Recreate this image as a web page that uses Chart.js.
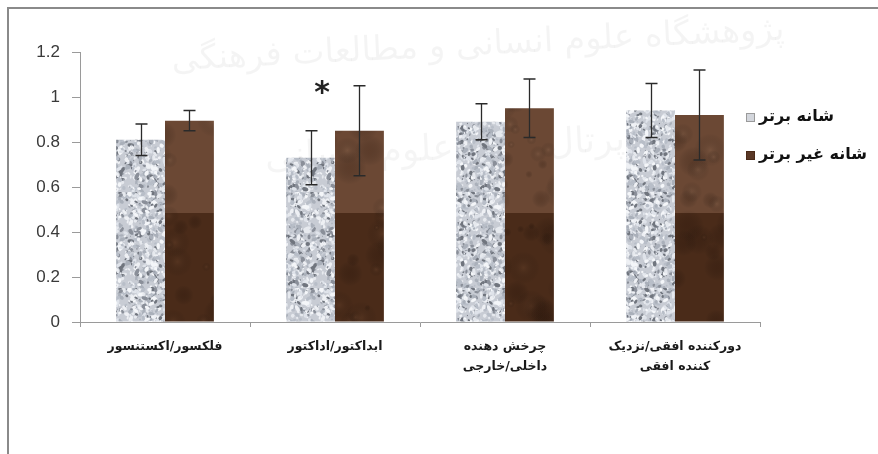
<!DOCTYPE html>
<html>
<head>
<meta charset="utf-8">
<script src="https://cdn.jsdelivr.net/npm/chart.js@4/dist/chart.umd.min.js"></script>
<style>
  html, body { margin: 0; padding: 0; background: #ffffff; }
  #wrap { width: 878px; height: 454px; }
</style>
</head>
<body>
<div id="wrap"><canvas id="c" width="878" height="454"></canvas></div>
<script>
// ---- data ----
const categories = [
  'فلکسور/اکستنسور',
  'ابداکتور/اداکتور',
  ['چرخش دهنده', 'داخلی/خارجی'],
  ['دورکننده افقی/نزدیک', 'کننده افقی']
];
const seriesNames = ['شانه برتر', 'شانه غیر برتر'];
const dominantValues = [0.81, 0.73, 0.89, 0.94];
const dominantErrors = [0.07, 0.12, 0.08, 0.12];
const nonDominantValues = [0.895, 0.85, 0.95, 0.92];
const nonDominantErrors = [0.045, 0.2, 0.13, 0.2];
const significantCategoryIndex = 1;
const significanceMark = '*';
const watermarkLines = ['پژوهشگاه علوم انسانی و مطالعات فرهنگی', 'پرتال جامع علوم انسانی'];

// ---- textures (styling only) ----
function lcg(seed) {
  let s = seed;
  return () => { s = (s * 16807) % 2147483647; return s / 2147483647; };
}
function makeGranite() {
  const c = document.createElement('canvas');
  c.width = 96; c.height = 96;
  const g = c.getContext('2d');
  g.fillStyle = '#c8ccd4';
  g.fillRect(0, 0, 96, 96);
  const rnd = lcg(98765);
  const cols = ['#8a8f99', '#eef0f4', '#aab0ba', '#f4f6f9', '#70757e', '#b8bec8', '#dfe3ea', '#e6e9ee'];
  for (let i = 0; i < 1100; i++) {
    const x = rnd() * 96, y = rnd() * 96, r = rnd() * 1.6 + 0.4;
    g.fillStyle = cols[Math.floor(rnd() * cols.length)];
    g.beginPath();
    g.ellipse(x, y, r * (1 + rnd()), r, rnd() * Math.PI, 0, Math.PI * 2);
    g.fill();
  }
  return g.createPattern(c, 'repeat');
}
function makeMarble() {
  const W = 878, H = 454, split = 213;
  const c = document.createElement('canvas');
  c.width = W; c.height = H;
  const g = c.getContext('2d');
  g.fillStyle = '#6b4834';
  g.fillRect(0, 0, W, split);
  g.fillStyle = '#4a2b19';
  g.fillRect(0, split, W, H - split);
  const rnd = lcg(24680);
  for (let i = 0; i < 900; i++) {
    const x = rnd() * W, y = rnd() * H, r = rnd() * 14 + 3;
    const upper = y < split;
    const light = rnd() < 0.5;
    let col;
    if (upper) col = light ? 'rgba(140,104,80,0.3)' : 'rgba(60,34,20,0.3)';
    else col = light ? 'rgba(110,72,48,0.3)' : 'rgba(40,20,10,0.3)';
    const gr = g.createRadialGradient(x, y, 0, x, y, r);
    gr.addColorStop(0, col);
    gr.addColorStop(1, 'rgba(0,0,0,0)');
    g.fillStyle = gr;
    g.fillRect(x - r, y - r, 2 * r, 2 * r);
  }
  return g.createPattern(c, 'repeat');
}

const canvas = document.getElementById('c');
const grayPattern = makeGranite();
const brownPattern = makeMarble();

// ---- plugins ----
const framePlugin = {
  id: 'frame',
  beforeDraw(chart) {
    const ctx = chart.ctx;
    ctx.save();
    ctx.strokeStyle = '#8a8a8a';
    ctx.lineWidth = 2;
    ctx.beginPath();
    ctx.moveTo(8, 454);
    ctx.lineTo(8, 8);
    ctx.lineTo(878, 8);
    ctx.stroke();
    ctx.restore();
  },
  beforeDatasetsDraw(chart) {
    const ctx = chart.ctx;
    ctx.save();
    ctx.fillStyle = 'rgba(0,0,0,0.045)';
    ctx.textAlign = 'center';
    ctx.textBaseline = 'middle';
    ctx.font = '34px "DejaVu Sans"';
    ctx.translate(478, 46);
    ctx.rotate(-0.05);
    ctx.fillText(watermarkLines[0], 0, 0);
    ctx.restore();
    ctx.save();
    ctx.fillStyle = 'rgba(0,0,0,0.04)';
    ctx.textAlign = 'center';
    ctx.textBaseline = 'middle';
    ctx.font = '36px "DejaVu Sans"';
    ctx.translate(445, 150);
    ctx.rotate(-0.05);
    ctx.fillText(watermarkLines[1], 0, 0);
    ctx.restore();
  }
};

const errorBarPlugin = {
  id: 'errorBars',
  afterDatasetsDraw(chart) {
    const ctx = chart.ctx;
    const y = chart.scales.y;
    const errs = [dominantErrors, nonDominantErrors];
    ctx.save();
    ctx.strokeStyle = '#2a2a2a';
    ctx.lineWidth = 1.3;
    errs.forEach((e, di) => {
      const meta = chart.getDatasetMeta(di);
      meta.data.forEach((bar, i) => {
        const v = chart.data.datasets[di].data[i];
        const top = y.getPixelForValue(v + e[i]);
        const bot = y.getPixelForValue(v - e[i]);
        const x = Math.round(bar.x) + 0.5;
        ctx.beginPath();
        ctx.moveTo(x, top); ctx.lineTo(x, bot);
        ctx.moveTo(x - 6, top); ctx.lineTo(x + 6, top);
        ctx.moveTo(x - 6, bot); ctx.lineTo(x + 6, bot);
        ctx.stroke();
      });
    });
    const xs = chart.scales.x.getPixelForValue(significantCategoryIndex) - 13;
    const ys = y.getPixelForValue(1.04);
    ctx.fillStyle = '#222';
    ctx.font = 'bold 30px "DejaVu Sans"';
    ctx.textAlign = 'center';
    ctx.textBaseline = 'middle';
    ctx.fillText(significanceMark, xs, ys + 6);
    ctx.restore();
  }
};

const legendPlugin = {
  id: 'customLegend',
  afterDraw(chart) {
    const ctx = chart.ctx;
    const items = [
      { fill: '#d3d6dc', stroke: '#9a9a9a', y: 117 },
      { fill: '#5a3826', stroke: '#4a2a18', y: 155 }
    ];
    ctx.save();
    ctx.font = 'bold 16px "DejaVu Sans"';
    ctx.textAlign = 'left';
    ctx.textBaseline = 'middle';
    items.forEach((it, i) => {
      ctx.fillStyle = it.fill;
      ctx.fillRect(746, it.y - 4, 9, 9);
      ctx.strokeStyle = it.stroke;
      ctx.lineWidth = 1;
      ctx.strokeRect(746.5, it.y - 3.5, 8, 8);
      ctx.fillStyle = '#111';
      ctx.fillText(seriesNames[i], 759, it.y);
    });
    ctx.restore();
  }
};

new Chart(canvas, {
  type: 'bar',
  data: {
    labels: categories,
    datasets: [
      { label: seriesNames[0], data: dominantValues, backgroundColor: grayPattern, borderWidth: 0,
        categoryPercentage: 0.575, barPercentage: 1 },
      { label: seriesNames[1], data: nonDominantValues, backgroundColor: brownPattern, borderWidth: 0,
        categoryPercentage: 0.575, barPercentage: 1 }
    ]
  },
  options: {
    responsive: false,
    devicePixelRatio: 1,
    animation: false,
    layout: { padding: { top: 52, right: 118, left: 0, bottom: 0 } },
    plugins: {
      legend: { display: false },
      tooltip: { enabled: false }
    },
    scales: {
      x: {
        grid: { drawOnChartArea: false, tickLength: 5, color: '#9a9a9a' },
        border: { color: '#9a9a9a', width: 1 },
        ticks: {
          color: '#1a1a1a',
          font: { family: '"DejaVu Sans"', size: 12.5, weight: 'bold', lineHeight: 1.65 },
          padding: 9,
          maxRotation: 0,
          autoSkip: false
        },
        afterFit(s) { s.height = 132; }
      },
      y: {
        min: 0,
        max: 1.2,
        grid: { drawOnChartArea: false, tickLength: 8, color: '#9a9a9a' },
        border: { color: '#9a9a9a', width: 1 },
        ticks: {
          stepSize: 0.2,
          color: '#3a3a3a',
          font: { family: '"Liberation Sans"', size: 17 },
          padding: 12,
          callback: (v) => String(Number(v.toFixed(1)))
        },
        afterFit(s) { s.width = 80; }
      }
    }
  },
  plugins: [framePlugin, errorBarPlugin, legendPlugin]
});
</script>
</body>
</html>
